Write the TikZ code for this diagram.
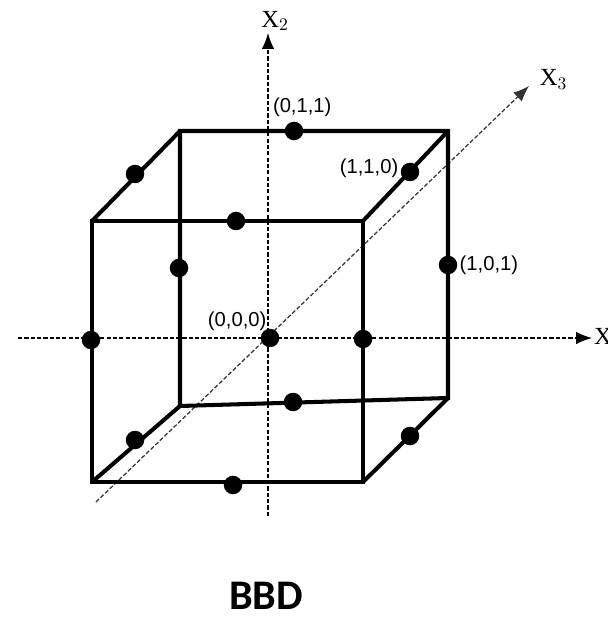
\documentclass[tikz,border=0pt]{standalone}
\usepackage{fontspec}
\setmainfont{Liberation Serif}
\setsansfont{Liberation Sans}
\newfontfamily\bbdfont{Carlito}
\usepackage{tikz}
\usetikzlibrary{arrows.meta, positioning, calc}
\tikzstyle{axis} = [line width=0.7pt, dash pattern=on 2.4pt off 1.2pt, -{Latex[length=9pt, width=7pt]}]
\tikzstyle{edge} = [line width=2.3pt, line join=miter]
\tikzstyle{pt} = [circle, fill=black, inner sep=0pt, minimum size=0.37cm]
\tikzstyle{axlabel} = [font=\fontsize{14}{16}\selectfont]

\begin{document}
\begin{tikzpicture}[x=0.02cm, y=-0.02cm, every node/.style={font=\sffamily\fontsize{11.5}{13}\selectfont, inner sep=1pt}]
\useasboundingbox (0,0) rectangle (607,617);
\clip (0,0) rectangle (607,617);
% Axes
\coordinate (x1s) at (18,338);
\coordinate (x1e) at (592,338);
\coordinate (x2s) at (268,516);
\coordinate (x2e) at (268,33);
\coordinate (x3s) at (96,502);
\coordinate (x3e) at (529,86);
\draw [axis] (x1s) -- (x1e);
\draw [axis] (x2s) -- (x2e);
\draw [axis, black!80] (x3s) -- (x3e);
\node (lx1) [axlabel, right=0pt of x1e] {X$_1$};
\node (lx2) [axlabel, above=0pt of x2e, xshift=4pt] {X$_2$};
\node (lx3) [axlabel, above right=-3pt and 5pt of x3e] {X$_3$};

% Cube corners
\coordinate (ftl) at (92,221);
\coordinate (ftr) at (363,221);
\coordinate (fbr) at (363,482);
\coordinate (fbl) at (92,482);
\coordinate (btl) at (180,131);
\coordinate (btr) at (448,131);
\coordinate (bbr) at (448,398);
\coordinate (bbl) at (180,406);
\draw [edge] (ftl) -- (ftr) -- (fbr) -- (fbl) -- cycle;
\draw [edge] (btl) -- (btr) -- (bbr) -- (bbl) -- cycle;
\draw [edge] (ftl) -- (btl);
\draw [edge] (ftr) -- (btr);
\draw [edge] (fbr) -- (bbr);
\draw [edge] (fbl) -- (bbl);

% Design points
\node (d000) [pt] at (270,338) {};
\node (d011) [pt] at (294,131) {};
\node (d110) [pt] at (410,172) {};
\node (d101) [pt] at (448,265) {};
\node (dtl) [pt] at (135,174) {};
\node (dft) [pt] at (236,221) {};
\node (dbl) [pt] at (179,268) {};
\node (dfl) [pt] at (91,340) {};
\node (dfr) [pt] at (363,339) {};
\node (dfb) [pt] at (233,485) {};
\node (dbb) [pt] at (293,402) {};
\node (dcl) [pt] at (135,440) {};
\node (dcr) [pt] at (410,436) {};

% Labels
\node (l000) [above left=-1pt and -3pt of d000] {(0,0,0)};
\node (l011) [above right=3pt and -17pt of d011] {(0,1,1)};
\node (l110) [left=0pt of d110, yshift=2pt] {(1,1,0)};
\node (l101) [right=0pt of d101] {(1,0,1)};

\node (title) at (266,596) [font=\bbdfont\bfseries\fontsize{24}{28}\selectfont] {BBD};
\end{tikzpicture}
\end{document}
